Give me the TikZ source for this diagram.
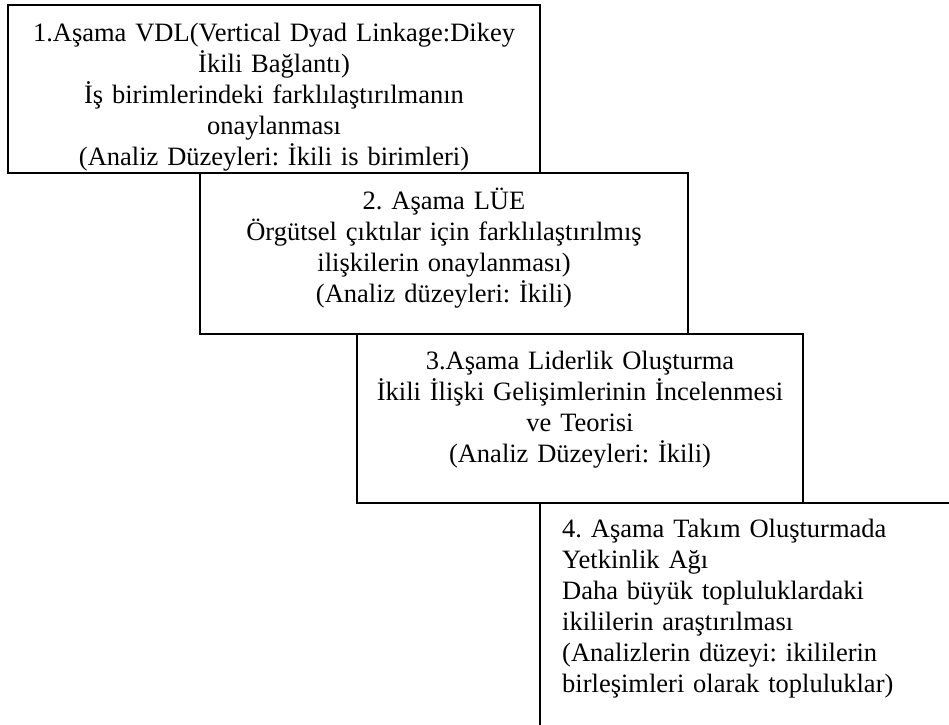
\documentclass[tikz,border=0pt]{standalone}
\usepackage{fontspec}
\setmainfont{Liberation Serif}
\frenchspacing
\begin{document}
\begin{tikzpicture}[x=1pt,y=-1pt,
  stagebox/.style={draw=black, line width=1.8pt, fill=white, rectangle,
    anchor=north west, inner sep=0pt, outer sep=0pt},
  stagetext/.style={font=\fontsize{26.5}{31}\selectfont, inner sep=0pt,
    anchor=base, align=center},
]
\useasboundingbox (0,0) rectangle (949,724);
\fill[white] (0,0) rectangle (949,724);
\clip (0,0) rectangle (949,724);

% Stage 1
\node[stagebox, minimum width=532pt, minimum height=168pt] (s1) at (8,5) {};
\begin{scope}
  \clip (8,5) rectangle (540,173);
  \node[stagetext, text width=525pt] (t1) at (274,41)
    {1.Aşama VDL(Vertical Dyad Linkage:Dikey\\
     İkili Bağlantı)\\
     İş birimlerindeki farklılaştırılmanın\\
     onaylanması\\
     (Analiz Düzeyleri: İkili is birimleri)};
\end{scope}

% Stage 2
\node[stagebox, minimum width=488pt, minimum height=161pt] (s2) at (200,173) {};
\node[stagetext, text width=480pt] (t2) at (444,209)
  {2. Aşama LÜE\\
   Örgütsel çıktılar için farklılaştırılmış\\
   ilişkilerin onaylanması)\\
   (Analiz düzeyleri: İkili)};

% Stage 3
\node[stagebox, minimum width=446pt, minimum height=169pt] (s3) at (357,334) {};
\node[stagetext, text width=440pt] (t3) at (580,369)
  {3.Aşama Liderlik Oluşturma\\
   İkili İlişki Gelişimlerinin İncelenmesi\\
   ve Teorisi\\
   (Analiz Düzeyleri: İkili)};

% Stage 4 (runs past the right and lower edges)
\node[stagebox, minimum width=440pt, minimum height=260pt] (s4) at (540,503) {};
\node[stagetext, align=left, anchor=base west, text width=380pt] (t4) at (562,537)
  {4. Aşama Takım Oluşturmada\\
   Yetkinlik Ağı\\
   Daha büyük topluluklardaki\\
   ikililerin araştırılması\\
   (Analizlerin düzeyi: ikililerin\\
   birleşimleri olarak topluluklar)};
\end{tikzpicture}
\end{document}
